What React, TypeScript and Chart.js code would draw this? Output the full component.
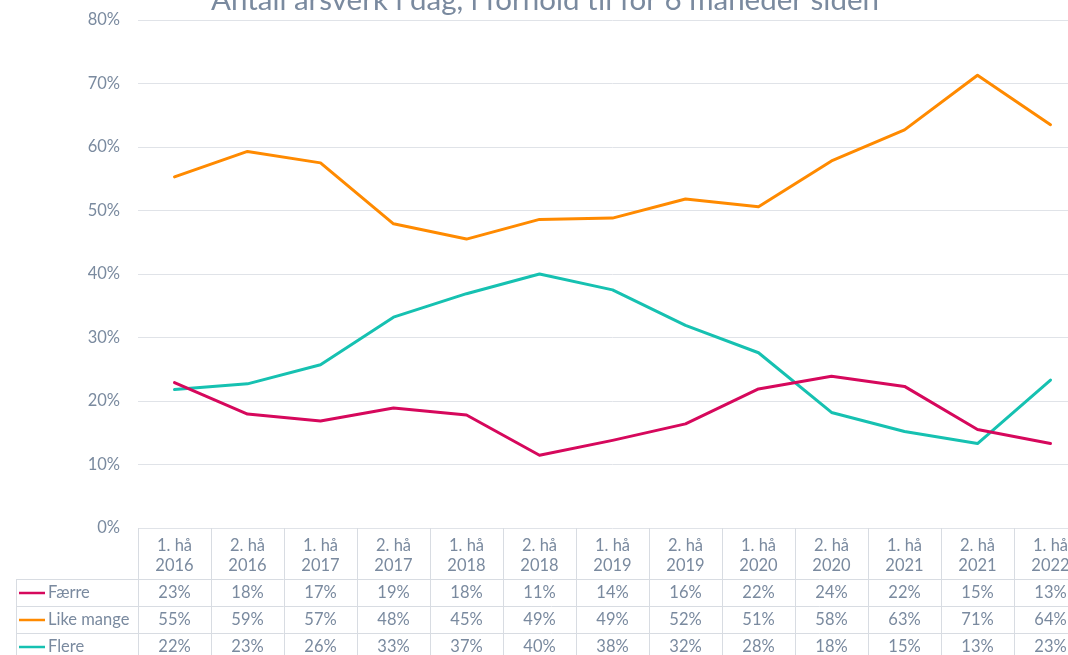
import React, { useEffect, useRef } from 'react';
import { Chart, registerables } from 'chart.js';

Chart.register(...registerables);

const title = 'Antall årsverk i dag, i forhold til for 6 måneder siden';

const categories: string[][] = [
  ['1. hå', '2016'], ['2. hå', '2016'], ['1. hå', '2017'], ['2. hå', '2017'],
  ['1. hå', '2018'], ['2. hå', '2018'], ['1. hå', '2019'], ['2. hå', '2019'],
  ['1. hå', '2020'], ['2. hå', '2020'], ['1. hå', '2021'], ['2. hå', '2021'],
  ['1. hå', '2022'],
];

const seriesNames = ['Færre', 'Like mange', 'Flere'];

const faerre = [22.9, 17.95, 16.85, 18.9, 17.8, 11.45, 13.8, 16.4, 21.9, 23.9, 22.3, 15.5, 13.3];
const likeMange = [55.3, 59.3, 57.5, 47.9, 45.5, 48.6, 48.8, 51.8, 50.6, 57.8, 62.7, 71.3, 63.5];
const flere = [21.8, 22.7, 25.7, 33.2, 36.9, 40.0, 37.5, 31.9, 27.6, 18.2, 15.2, 13.3, 23.3];

const faerreTable = ['23%', '18%', '17%', '19%', '18%', '11%', '14%', '16%', '22%', '24%', '22%', '15%', '13%'];
const likeMangeTable = ['55%', '59%', '57%', '48%', '45%', '49%', '49%', '52%', '51%', '58%', '63%', '71%', '64%'];
const flereTable = ['22%', '23%', '26%', '33%', '37%', '40%', '38%', '32%', '28%', '18%', '15%', '13%', '23%'];

const yMin = 0;
const yMax = 80;
const yStep = 10;

const colors = ['#d6085c', '#ff8a00', '#16c1b1'];
const textColor = '#7a8a9f';
const gridColor = '#e0e3e8';
const tableLineColor = '#d8dce2';
const fontFamily = 'Lato, "Open Sans", sans-serif';

const tablePlugin = {
  id: 'dataTableAndTitle',
  afterDraw(chart: any) {
    const { ctx, chartArea } = chart;
    const x = chart.scales.x;
    const n = categories.length;
    const colW = (chartArea.right - chartArea.left) / n;
    const top = chartArea.bottom;
    const headH = 51;
    const rowH = 27;
    const legendLeft = 16;
    const rows = [faerreTable, likeMangeTable, flereTable];
    const bottom = top + headH + rowH * rows.length;
    const right = x.getPixelForValue(n - 1) + colW / 2;

    ctx.save();
    // title
    ctx.fillStyle = textColor;
    ctx.font = `29.5px ${fontFamily}`;
    ctx.textAlign = 'center';
    ctx.textBaseline = 'alphabetic';
    ctx.fillText(title, chart.width / 2, 10);

    // grid lines of the table
    ctx.strokeStyle = tableLineColor;
    ctx.lineWidth = 1;
    ctx.beginPath();
    for (let i = 0; i < n; i++) {
      const px = Math.round(x.getPixelForValue(i) - colW / 2) + 0.5;
      ctx.moveTo(px, top);
      ctx.lineTo(px, bottom);
    }
    const pr = Math.round(right) + 0.5;
    ctx.moveTo(pr, top);
    ctx.lineTo(pr, bottom);
    ctx.moveTo(legendLeft + 0.5, top + headH);
    ctx.lineTo(legendLeft + 0.5, bottom);
    for (let r = 0; r <= rows.length; r++) {
      const py = Math.round(top + headH + r * rowH) + 0.5;
      ctx.moveTo(legendLeft, py);
      ctx.lineTo(right, py);
    }
    ctx.stroke();

    // header labels
    ctx.fillStyle = textColor;
    ctx.font = `16.5px ${fontFamily}`;
    ctx.textAlign = 'center';
    ctx.textBaseline = 'middle';
    for (let i = 0; i < n; i++) {
      const cx = x.getPixelForValue(i);
      ctx.fillText(categories[i][0], cx, top + 18);
      ctx.fillText(categories[i][1], cx, top + 38);
    }

    // rows
    rows.forEach((vals, r) => {
      const cy = top + headH + r * rowH + rowH / 2 + 0.5;
      // legend key
      ctx.strokeStyle = colors[r];
      ctx.lineWidth = 2.5;
      ctx.beginPath();
      ctx.moveTo(19, cy);
      ctx.lineTo(45, cy);
      ctx.stroke();
      ctx.fillStyle = textColor;
      ctx.textAlign = 'left';
      ctx.fillText(seriesNames[r], 48, cy);
      ctx.textAlign = 'center';
      for (let i = 0; i < n; i++) {
        ctx.fillText(vals[i], x.getPixelForValue(i), cy);
      }
    });
    ctx.restore();
  },
};

export default function App() {
  const canvasRef = useRef<HTMLCanvasElement | null>(null);

  useEffect(() => {
    if (!canvasRef.current) return;
    const chart = new Chart(canvasRef.current, {
      type: 'line',
      data: {
        labels: categories,
        datasets: [faerre, likeMange, flere].map((d, i) => ({
          label: seriesNames[i],
          data: d,
          borderColor: colors[i],
          backgroundColor: colors[i],
          borderWidth: 3,
          pointRadius: 0,
          pointHoverRadius: 0,
          tension: 0,
          borderCapStyle: 'round' as const,
          borderJoinStyle: 'round' as const,
          fill: false,
        })),
      },
      options: {
        responsive: false,
        animation: false,
        layout: { padding: { top: 20, bottom: 137, left: 0, right: 3 } },
        plugins: {
          legend: { display: false },
          title: { display: false },
          tooltip: { enabled: false },
        },
        scales: {
          x: {
            type: 'category',
            display: false,
            offset: true,
            grid: { display: false },
          },
          y: {
            min: yMin,
            max: yMax,
            border: { display: false },
            grid: { color: gridColor, lineWidth: 1, drawTicks: false },
            afterFit: (scale: any) => {
              scale.width = 138;
              scale.paddingTop = 8;
              scale.paddingBottom = 8;
            },
            ticks: {
              stepSize: yStep,
              padding: 18,
              color: textColor,
              font: { family: fontFamily, size: 16.5 },
              callback: (v: any) => `${v}%`,
            },
          },
        },
      },
      plugins: [tablePlugin],
    });
    return () => chart.destroy();
  }, []);

  return (
    <div style={{ position: 'fixed', left: 0, top: 0, width: 1068, height: 655, overflow: 'hidden', background: '#fff' }}>
      <canvas ref={canvasRef} width={1090} height={665} style={{ width: 1090, height: 665, display: 'block' }} />
    </div>
  );
}
